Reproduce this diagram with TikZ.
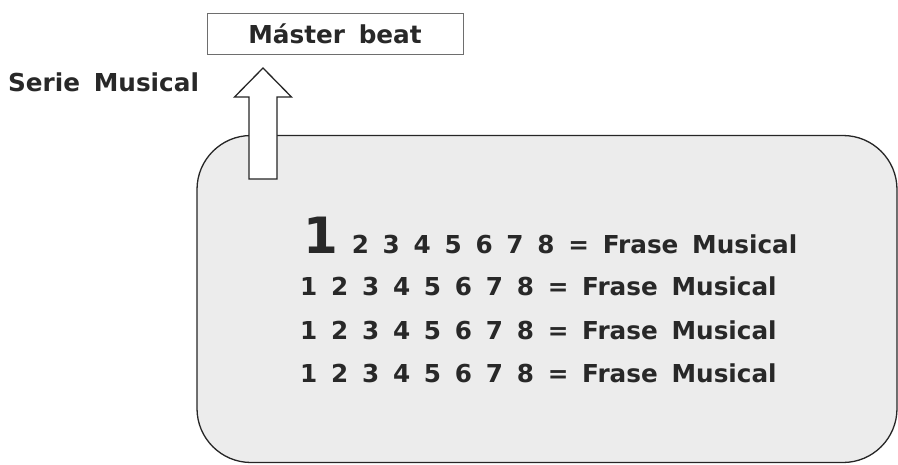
\documentclass[tikz,border=0pt]{standalone}
\usepackage{fontspec}
\setmainfont{DejaVu Sans}[WordSpace=1.6]
\usepackage{xcolor}
\usepackage{tikz}
\usetikzlibrary{positioning}
\definecolor{inkgray}{RGB}{40, 40, 40}
\definecolor{paperfill}{RGB}{236, 236, 236}
\definecolor{frameline}{RGB}{110, 110, 110}

\begin{document}
\begin{tikzpicture}[
    x=1pt, y=-1pt,
    txt/.style={font=\bfseries\fontsize{24.7}{30}\selectfont, text=inkgray, inner sep=0pt},
    beatbox/.style={rectangle, draw=frameline, line width=1pt, fill=white, minimum width=256pt, minimum height=41pt, inner sep=0pt},
    phrasebox/.style={rectangle, draw=black!85, line width=1.3pt, fill=paperfill, rounded corners=54pt, minimum width=700pt, minimum height=327pt},
    blockarrow/.style={draw=black!85, line width=1.3pt, fill=white, line join=miter},
    phrase/.style={txt, anchor=base west}
]
    \useasboundingbox (0,0) rectangle (898,464);

    % Frame with the phrases
    \node[phrasebox] (box) at (547,299) {};

    % Master beat
    \node[beatbox, txt] (master) at (335,33.5) {Máster beat};
    \node[txt, anchor=base west] (serie) at (8,91) {Serie Musical};

    % Block arrow up to the master beat
    \coordinate (tail) at (263,179);
    \draw[blockarrow] (tail) ++(-14,0) -- ++(0,-82) -- ++(-14.5,0) -- ++(28.5,-29)
        -- ++(28.5,29) -- ++(-14.5,0) -- ++(0,82) -- cycle;

    % Phrases
    \node[phrase] (line1) at (303,253) {{\fontsize{50}{50}\selectfont 1} 2 3 4 5 6 7 8 = Frase Musical};
    \node[phrase] (line2) at (300,295) {1 2 3 4 5 6 7 8 = Frase Musical};
    \node[phrase] (line3) at (300,339) {1 2 3 4 5 6 7 8 = Frase Musical};
    \node[phrase] (line4) at (300,382) {1 2 3 4 5 6 7 8 = Frase Musical};
\end{tikzpicture}
\end{document}
